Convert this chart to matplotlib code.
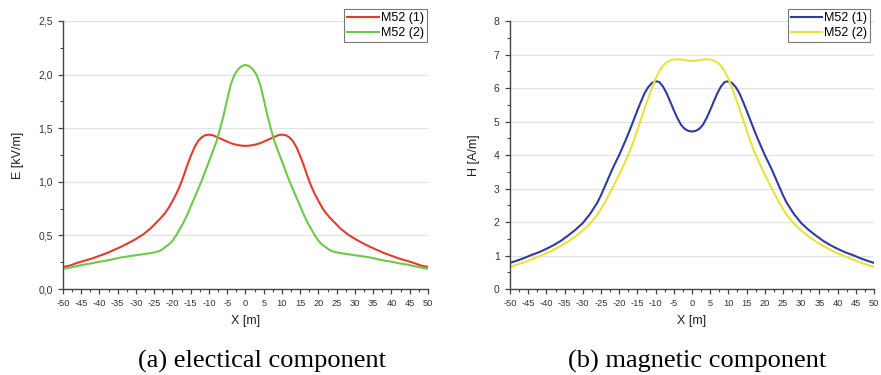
import numpy as np
import matplotlib.pyplot as plt
from matplotlib.ticker import MultipleLocator, FuncFormatter

# x positions (m), left half, curves are symmetric
x_half = [-50, -48, -46, -44, -42, -40, -38, -36, -34, -32, -30, -28, -26,
          -25, -24, -23, -22, -21, -20, -19, -18, -17, -16, -15, -14, -13,
          -12, -11, -10, -9, -8, -7, -6, -5, -4, -3, -2, -1, 0]

# (a) electric field E [kV/m]
e_m52_1_half = [0.205, 0.22, 0.245, 0.265, 0.285, 0.31, 0.335, 0.365, 0.395,
                0.43, 0.467, 0.51, 0.565,
                0.60, 0.635, 0.67, 0.71, 0.76, 0.82, 0.885, 0.96, 1.05, 1.15,
                1.24, 1.32, 1.38, 1.415, 1.435, 1.44, 1.435, 1.42, 1.405,
                1.39, 1.375, 1.36, 1.35, 1.342, 1.337, 1.335]
e_m52_2_half = [0.19, 0.20, 0.215, 0.23, 0.24, 0.255, 0.265, 0.28, 0.295,
                0.305, 0.315, 0.325, 0.335,
                0.342, 0.35, 0.365, 0.39, 0.415, 0.45, 0.50, 0.56, 0.62, 0.69,
                0.77, 0.85, 0.93, 1.01, 1.10, 1.19, 1.28, 1.37, 1.49, 1.62,
                1.77, 1.91, 2.00, 2.05, 2.08, 2.09]

# (b) magnetic field H [A/m]
h_m52_1_half = [0.78, 0.85, 0.93, 1.02, 1.10, 1.20, 1.31, 1.44, 1.60, 1.77,
                1.97, 2.24, 2.58,
                2.8, 3.05, 3.3, 3.55, 3.78, 4.0, 4.25, 4.5, 4.77, 5.05, 5.33,
                5.6, 5.85, 6.03, 6.15, 6.2, 6.18, 6.05, 5.85, 5.6, 5.34, 5.1,
                4.9, 4.78, 4.72, 4.7]
h_m52_2_half = [0.66, 0.73, 0.80, 0.89, 0.97, 1.07, 1.17, 1.29, 1.42, 1.57,
                1.75, 1.95, 2.22,
                2.39, 2.58, 2.78, 2.98, 3.2, 3.42, 3.65, 3.88, 4.14, 4.42,
                4.74, 5.07, 5.4, 5.7, 6.0, 6.28, 6.5, 6.66, 6.76, 6.82, 6.85,
                6.86, 6.85, 6.83, 6.815, 6.81]

labels = ["M52 (1)", "M52 (2)"]


def mirror(xs, ys):
    # build the full curve from the left half
    x = np.array(xs + [-v for v in xs[-2::-1]], dtype=float)
    y = np.array(ys + ys[-2::-1], dtype=float)
    return x, y


def style_axes(ax, ymax, ystep, yfmt, ylabel):
    ax.set_xlim(-50, 50)
    ax.set_ylim(0, ymax)
    ax.xaxis.set_major_locator(MultipleLocator(5))
    ax.xaxis.set_minor_locator(MultipleLocator(2.5))
    ax.yaxis.set_major_locator(MultipleLocator(ystep))
    ax.yaxis.set_minor_locator(MultipleLocator(ystep / 2))
    ax.yaxis.set_major_formatter(FuncFormatter(yfmt))
    ax.xaxis.set_major_formatter(FuncFormatter(lambda v, p: "%d" % v))
    for s in ["top", "right"]:
        ax.spines[s].set_visible(False)
    for s in ["left", "bottom"]:
        ax.spines[s].set_color("#444444")
        ax.spines[s].set_linewidth(1.0)
    ax.tick_params(which="major", length=3.5, width=0.9, color="#444444",
                   labelcolor="#333333")
    ax.tick_params(axis="x", labelsize=6.7, pad=4)
    ax.tick_params(axis="y", labelsize=7.5, pad=4)
    ax.tick_params(which="minor", length=2, width=0.8, color="#444444")
    ax.grid(axis="y", which="major", color="#e2e2e2", linewidth=0.9)
    ax.set_axisbelow(True)
    ax.set_xlabel("X [m]", fontsize=9, color="#222222", labelpad=5)
    ax.set_ylabel(ylabel, fontsize=9, color="#222222", labelpad=10)


plt.rcParams["font.family"] = ["Liberation Sans", "DejaVu Sans"]

fig = plt.figure(figsize=(8.81, 3.75), dpi=100)
ax1 = fig.add_axes([0.0715, 0.2293, 0.4143, 0.7147])
ax2 = fig.add_axes([0.5789, 0.2293, 0.4131, 0.7147])

x, y = mirror(x_half, e_m52_1_half)
ax1.plot(x, y, color="#e43b2e", lw=1.5, label=labels[0])
x, y = mirror(x_half, e_m52_2_half)
ax1.plot(x, y, color="#6cc94c", lw=1.5, label=labels[1])
style_axes(ax1, 2.5, 0.5, lambda v, p: ("%.1f" % v).replace(".", ","),
           "E [kV/m]")

x, y = mirror(x_half, h_m52_1_half)
ax2.plot(x, y, color="#2f3c9e", lw=1.5, label=labels[0])
x, y = mirror(x_half, h_m52_2_half)
ax2.plot(x, y, color="#e9e23a", lw=1.5, label=labels[1])
style_axes(ax2, 8, 1, lambda v, p: "%d" % v, "H [A/m]")

for ax, corner in [(ax1, (0.4843, 0.975)), (ax2, (0.9875, 0.975))]:
    leg = ax.legend(loc="upper right", bbox_to_anchor=corner,
                    bbox_transform=fig.transFigure, fontsize=9,
                    handlelength=2.5, handletextpad=0.15, labelspacing=0.22,
                    borderpad=0.25, borderaxespad=0, fancybox=False,
                    framealpha=1, edgecolor="#777777")
    leg.get_frame().set_linewidth(0.8)

fig.text(0.2975, 0.0187, "(a) electical component", ha="center",
         va="baseline", fontsize=19, family="Liberation Serif")
fig.text(0.791, 0.0187, "(b) magnetic component", ha="center",
         va="baseline", fontsize=19, family="Liberation Serif")

fig.savefig("out.png", dpi=100)
